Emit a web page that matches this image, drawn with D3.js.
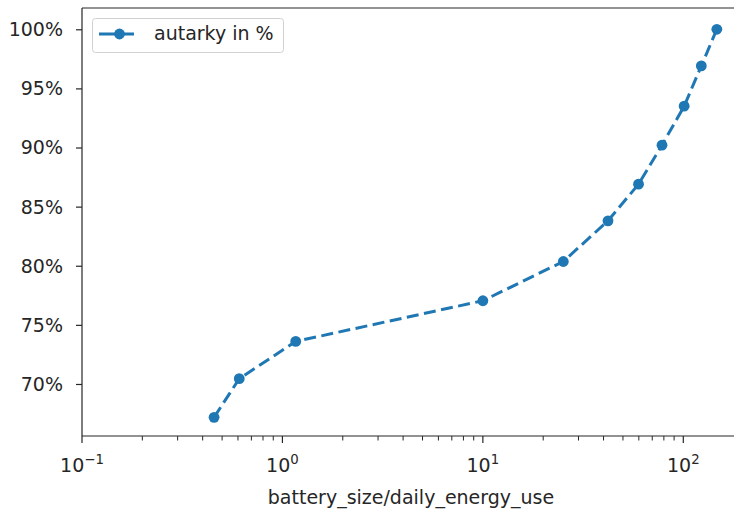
<!DOCTYPE html>
<html>
<head>
<meta charset="utf-8">
<script src="https://cdn.jsdelivr.net/npm/d3@7"></script>
<style>
  html, body { margin: 0; padding: 0; background: #fff; }
  svg { display: block; }
  text { font-family: "DejaVu Sans", sans-serif; fill: #262626; }
</style>
</head>
<body>
<svg id="chart" width="734" height="510"></svg>
<script>
// Data
const batteryRatio = [0.456, 0.609, 1.165, 10.0, 25.2, 42.1, 59.8, 78.3, 101, 123, 147];
const autarkyPct   = [67.18, 70.45, 73.6, 77.04, 80.36, 83.8, 86.9, 90.2, 93.5, 96.9, 100.0];
const xTickExps    = [-1, 0, 1, 2];
const yTickValues  = [70, 75, 80, 85, 90, 95, 100];
const seriesLabel  = "autarky in %";
const xLabel       = "battery_size/daily_energy_use";

(function () {
const W = 734, H = 510;
const mL = 82, mT = 8, mB = 436, mR = 745;
const fs = 19;
const blue = "#1f77b4";
const ink = "#262626";

const svg = d3.select("#chart");

const x = d3.scaleLog().domain([0.1, Math.pow(10, 2 + (mR - 683.3) / 200.4)]).range([mL, mR]);
const y = d3.scaleLinear().domain([65.6, 101.8]).range([mB, mT]);

const data = batteryRatio.map((v, i) => ({x: v, y: autarkyPct[i]}));

svg.append("defs").append("clipPath").attr("id", "clip")
  .append("rect").attr("x", mL).attr("y", mT).attr("width", mR - mL).attr("height", mB - mT);

// minor ticks on x
const minorVals = [];
for (let e = -1; e <= 2; e++) {
  for (let k = 2; k <= 9; k++) {
    const v = k * Math.pow(10, e);
    if (x(v) <= W) minorVals.push(v);
  }
}
svg.append("g").selectAll("line").data(minorVals).join("line")
  .attr("x1", d => x(d)).attr("x2", d => x(d))
  .attr("y1", mB).attr("y2", mB + 4.5)
  .attr("stroke", ink).attr("stroke-width", 1);

// major x ticks
const xt = svg.append("g");
xTickExps.forEach(e => {
  const xv = x(Math.pow(10, e));
  xt.append("line").attr("x1", xv).attr("x2", xv).attr("y1", mB).attr("y2", mB + 7)
    .attr("stroke", ink).attr("stroke-width", 1.2);
  const t = xt.append("text").attr("x", xv).attr("y", mB + 36)
    .attr("text-anchor", "middle").attr("font-size", fs);
  t.append("tspan").text("10");
  t.append("tspan").attr("dy", -8).attr("font-size", fs * 0.7).text(e < 0 ? "\u2212" + Math.abs(e) : String(e));
});

// y ticks
const yAxis = d3.axisLeft(y).tickValues(yTickValues).tickSize(6).tickPadding(13)
  .tickFormat(d => d + "%");
const yg = svg.append("g").attr("transform", `translate(${mL},0)`).call(yAxis);
yg.select(".domain").remove();
yg.selectAll("line").attr("stroke", ink).attr("stroke-width", 1.2);
yg.selectAll("text").attr("font-size", fs).attr("font-family", "DejaVu Sans").attr("fill", ink)
  .attr("dy", "0.34em");

// line
const line = d3.line().x(d => x(d.x)).y(d => y(d.y));
const plot = svg.append("g").attr("clip-path", "url(#clip)");
plot.append("path").datum(data).attr("d", line)
  .attr("fill", "none").attr("stroke", blue).attr("stroke-width", 3)
  .attr("stroke-dasharray", "12,5.5");
plot.selectAll("circle").data(data).join("circle")
  .attr("cx", d => x(d.x)).attr("cy", d => y(d.y)).attr("r", 5.4).attr("fill", blue);

// spines
svg.append("line").attr("x1", mL).attr("x2", mL).attr("y1", mT).attr("y2", mB)
  .attr("stroke", ink).attr("stroke-width", 1.2);
svg.append("line").attr("x1", mL).attr("x2", W).attr("y1", mB).attr("y2", mB)
  .attr("stroke", ink).attr("stroke-width", 1.2);
svg.append("line").attr("x1", mL).attr("x2", W).attr("y1", mT).attr("y2", mT)
  .attr("stroke", ink).attr("stroke-width", 1.2);

// x label
svg.append("text").attr("x", 411).attr("y", 504).attr("text-anchor", "middle")
  .attr("font-size", fs).text(xLabel);

// legend
const lg = svg.append("g");
lg.append("rect").attr("x", 92.5).attr("y", 18.5).attr("width", 191).attr("height", 34)
  .attr("rx", 3).attr("fill", "#fff").attr("fill-opacity", 0.8).attr("stroke", "#d0d0d0").attr("stroke-width", 1);
lg.append("line").attr("x1", 99).attr("x2", 134).attr("y1", 34).attr("y2", 34)
  .attr("stroke", blue).attr("stroke-width", 3);
lg.append("circle").attr("cx", 119.5).attr("cy", 34).attr("r", 5.4).attr("fill", blue);
lg.append("text").attr("x", 154).attr("y", 40).attr("font-size", fs).text(seriesLabel);
})();
</script>
</body>
</html>
